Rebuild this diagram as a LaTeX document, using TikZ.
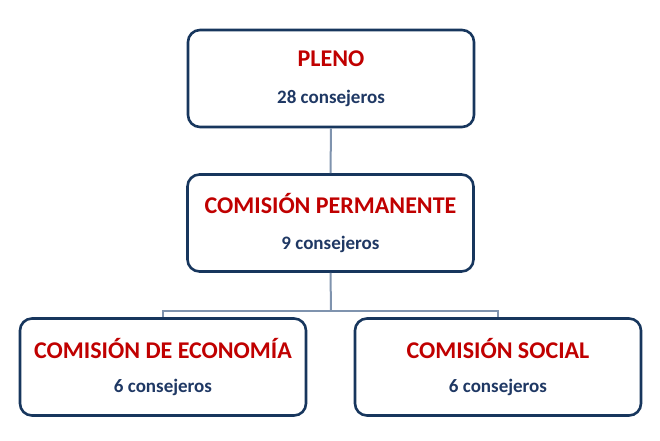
\documentclass[tikz,border=0pt]{standalone}
\usepackage{fontspec}
\setmainfont{Carlito}
\usetikzlibrary{calc, positioning}

\definecolor{boxline}{HTML}{17365D}
\definecolor{titlered}{HTML}{C00000}
\definecolor{countblue}{HTML}{1F3864}
\definecolor{linkgrey}{HTML}{7F93AE}

\tikzset{
  orgbox/.style={draw=boxline, line width=2.6pt, rounded corners=12pt, fill=white,
    minimum width=286pt, minimum height=97pt, align=center, inner sep=0pt},
  link/.style={draw=linkgrey, line width=2pt},
}
\newcommand{\unitname}[1]{{\fontsize{24}{28}\selectfont\bfseries\color{titlered}#1}}
\newcommand{\members}[1]{{\fontsize{19}{22}\selectfont\bfseries\color{countblue}#1}}

\begin{document}
\begin{tikzpicture}[x=1pt,y=-1pt]
\useasboundingbox (0,0) rectangle (660,440);

\coordinate (Bus) at (331,311);

\node[orgbox] (Pleno) at (331,78.5) {\unitname{PLENO}\\[22pt]\members{28 consejeros}};
\node[orgbox] (Permanente) at (330.5,223) {\unitname{COMISIÓN PERMANENTE}\\[22pt]\members{9 consejeros}};
\node[orgbox] (Economia) at (163,367) {\unitname{COMISIÓN DE ECONOMÍA}\\[20pt]\members{6 consejeros}};
\node[orgbox] (Social) at (498,367) {\unitname{COMISIÓN SOCIAL}\\[20pt]\members{6 consejeros}};

\draw[link] (Pleno.south) -- (Permanente.north);
\draw[link] (Permanente.south) -- (Bus);
\draw[link] (Economia.north) |- (Bus) -| (Social.north);
\end{tikzpicture}
\end{document}
